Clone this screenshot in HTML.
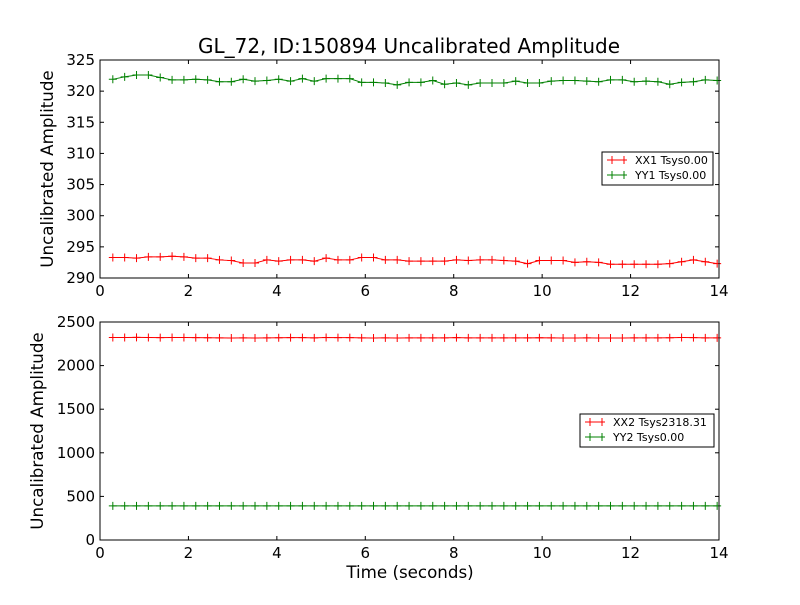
<!DOCTYPE html>
<html><head><meta charset="utf-8"><style>
body{margin:0;background:#fff}
svg text{font-family:"DejaVu Sans","Liberation Sans",sans-serif}
</style></head><body>
<svg id="c" width="800" height="600" xmlns="http://www.w3.org/2000/svg">
<rect width="800" height="600" fill="#fff"/>
</svg>
<script>
const N = 52;
const tStart = 0.29, tStep = 0.268;
const xx1 = [293.3,293.3,293.2,293.4,293.4,293.5,293.4,293.2,293.2,292.9,292.8,292.4,292.4,292.9,292.7,292.9,292.9,292.7,293.2,292.9,292.9,293.3,293.3,292.9,292.9,292.7,292.7,292.7,292.7,292.9,292.8,292.9,292.9,292.8,292.7,292.3,292.8,292.8,292.8,292.5,292.6,292.5,292.2,292.2,292.2,292.2,292.2,292.3,292.6,292.9,292.6,292.3];
const yy1 = [321.9,322.3,322.6,322.6,322.2,321.8,321.8,321.9,321.8,321.5,321.5,321.9,321.6,321.7,321.9,321.6,322.0,321.6,322.0,322.0,322.0,321.4,321.4,321.3,321.0,321.4,321.4,321.7,321.1,321.3,321.0,321.3,321.3,321.3,321.6,321.3,321.3,321.6,321.7,321.7,321.6,321.5,321.8,321.8,321.5,321.6,321.5,321.1,321.4,321.5,321.8,321.7];
const xx2 = [2322,2322,2323,2322,2321,2322,2322,2321,2320,2318,2317,2318,2317,2318,2320,2321,2321,2318,2322,2321,2321,2318,2317,2318,2317,2318,2318,2318,2318,2321,2318,2318,2318,2318,2318,2318,2320,2318,2317,2317,2318,2317,2317,2317,2318,2318,2318,2320,2322,2321,2318,2318];
const yy2 = [392,392,392,392,392,392,392,392,392,392,392,392,392,392,392,392,392,392,392,392,392,392,392,392,392,392,392,392,392,392,392,392,392,392,392,392,392,392,392,392,392,392,392,392,392,392,392,392,392,392,392,392];
const xTicks = [0,2,4,6,8,10,12,14];
const yTicks1 = [290,295,300,305,310,315,320,325];
const yTicks2 = [0,500,1000,1500,2000,2500];

const svg = document.getElementById('c');
const NS = 'http://www.w3.org/2000/svg';
function mk(tag, attrs, parent){const e=document.createElementNS(NS,tag);for(const k in attrs)e.setAttribute(k,attrs[k]);(parent||svg).appendChild(e);return e;}
function txt(s, attrs, parent){const e=mk('text',attrs,parent);e.textContent=s;return e;}

function panel(name, top, bottom, ymin, ymax, yTicks, series, legend, showXLabel){
  const L=100,R=719;
  const g=mk('g',{});
  
  
  const sx=v=>L+(v-0)/(14-0)*(R-L);
  const sy=v=>bottom-(v-ymin)/(ymax-ymin)*(bottom-top);
  series.forEach(s=>{
    const pts=s.data.map((v,i)=>[sx(tStart+i*tStep),sy(v)]);
    const pl=mk('polyline',{points:pts.map(p=>p.join(',')).join(' '),fill:'none',stroke:s.color,'stroke-width':1},g);
    
    
    let d='';pts.forEach(p=>{d+=`M${p[0]-4},${p[1]}h8M${p[0]},${p[1]-4}v8`;});
    const m=mk('path',{d:d,stroke:s.color,'stroke-width':1},g);
    
    
  });
  const fr=mk('rect',{x:L,y:top,width:R-L,height:bottom-top,fill:'none',stroke:'#000','stroke-width':1},g);
  
  
  xTicks.forEach(t=>{
    const x=sx(t);
    mk('line',{x1:x,x2:x,y1:bottom,y2:bottom-4,stroke:'#000'},g);
    mk('line',{x1:x,x2:x,y1:top,y2:top+4,stroke:'#000'},g);
    const e=txt(String(t),{x:x,y:bottom+18,'font-size':15,'text-anchor':'middle'},g);
    
    
  });
  yTicks.forEach(t=>{
    const y=sy(t);
    mk('line',{x1:L,x2:L+4,y1:y,y2:y,stroke:'#000'},g);
    mk('line',{x1:R,x2:R-4,y1:y,y2:y,stroke:'#000'},g);
    const e=txt(String(t),{x:L-5,y:y+5,'font-size':15,'text-anchor':'end'},g);
    
    
  });
  const yl=txt('Uncalibrated Amplitude',{x:0,y:0,'font-size':16.7,'text-anchor':'middle',transform:`translate(${legend.ylx},${(top+bottom)/2}) rotate(-90)`},g);
  
  
  const lg=mk('g',{},g);
  
  
  mk('rect',{x:legend.x,y:legend.y,width:legend.w,height:33,fill:'#fff',stroke:'#000'},lg);
  series.forEach((s,i)=>{
    const yy=legend.y+8+i*15;
    mk('line',{x1:legend.x+5,x2:legend.x+25,y1:yy,y2:yy,stroke:s.color},lg);
    mk('path',{d:`M${legend.x+7},${yy}h6M${legend.x+10},${yy-4}v8M${legend.x+19},${yy}h6M${legend.x+22},${yy-4}v8`,stroke:s.color},lg);
    const e=txt(s.label,{x:legend.x+33,y:yy+4,'font-size':11},lg);
    
    
  });
}

panel('top-panel',60,278,290,325,yTicks1,
  [{key:'xx1',data:xx1,color:'#ff0000',label:'XX1 Tsys0.00'},{key:'yy1',data:yy1,color:'#008000',label:'YY1 Tsys0.00'}],
  {x:602,y:152,w:111,ylx:53});
panel('bottom-panel',322,540,0,2500,yTicks2,
  [{key:'xx2',data:xx2,color:'#ff0000',label:'XX2 Tsys2318.31'},{key:'yy2',data:yy2,color:'#008000',label:'YY2 Tsys0.00'}],
  {x:580,y:414,w:134,ylx:43});

const title=txt('GL_72, ID:150894 Uncalibrated Amplitude',{x:409,y:53,'font-size':20,'text-anchor':'middle'});


const xt=txt('Time (seconds)',{x:410,y:578,'font-size':16.7,'text-anchor':'middle'});


</script>
</body></html>
